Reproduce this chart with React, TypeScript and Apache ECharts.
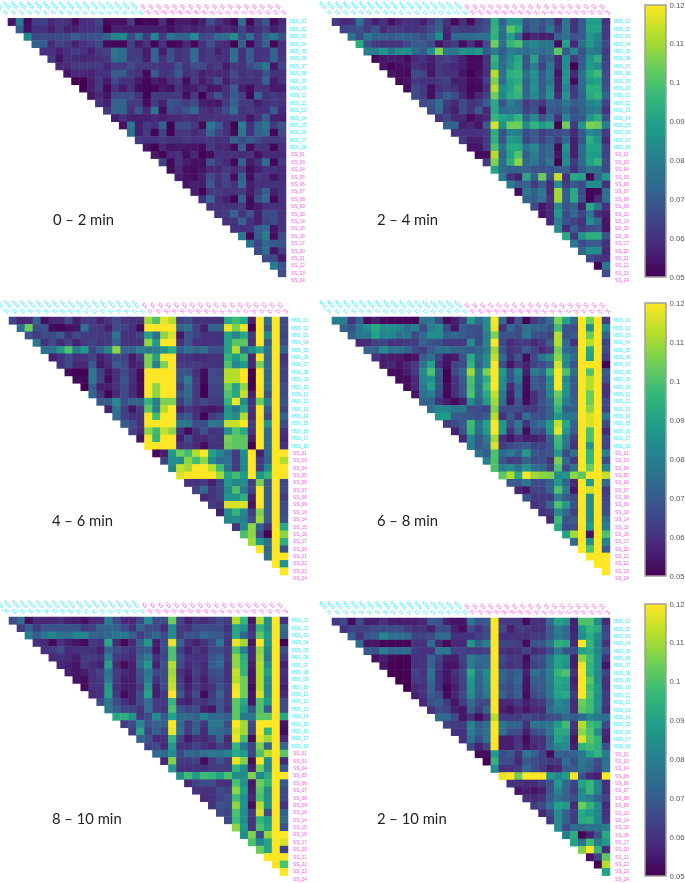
import React, { useEffect, useRef } from "react";
import * as echarts from "echarts";

const nssLabels = ["NSS_01","NSS_02","NSS_03","NSS_04","NSS_05","NSS_06","NSS_07","NSS_08","NSS_09","NSS_10","NSS_11","NSS_12","NSS_13","NSS_14","NSS_15","NSS_16","NSS_17","NSS_18"];
const ssLabels = ["SS_01","SS_03","SS_04","SS_05","SS_06","SS_07","SS_08","SS_09","SS_10","SS_14","SS_15","SS_16","SS_17","SS_20","SS_21","SS_22","SS_23","SS_24"];
const labels = [...nssLabels, ...ssLabels];
const panelTitles = ["0 – 2 min","2 – 4 min","4 – 6 min","6 – 8 min","8 – 10 min","2 – 10 min"];
const colorbarTicks = { min: 0.05, max: 0.12, step: 0.01 };
const viridis = ["#440154","#482878","#3e4989","#31688e","#26828e","#1f9e89","#35b779","#6ece58","#b5de2b","#fde725"];

// Values are thousandths; each row starts just right of the diagonal.
const min0to2 = [
[54,79,52,63,64,58,61,60,52,59,60,64,52,54,53,62,50,52,51,60,51,55,56,52,56,67,60,56,51,75,51,62,68,52,58],
[72,53,60,60,56,61,56,56,60,60,62,50,56,56,56,56,56,56,56,53,56,58,56,58,60,56,58,56,64,56,60,64,56,60],
[82,65,66,65,66,66,71,66,68,68,72,82,82,66,76,62,82,62,77,72,72,84,66,66,74,74,84,66,76,62,72,78,68],
[72,70,58,64,62,56,60,62,66,52,51,51,64,55,60,51,60,51,52,58,51,60,67,60,58,50,72,51,62,72,51,60],
[60,60,56,60,62,60,56,62,64,76,74,62,62,55,72,55,66,60,62,74,60,62,56,60,74,60,70,60,60,72,60],
[62,53,60,58,57,58,60,62,76,74,62,64,56,72,60,68,60,62,74,60,62,60,60,76,60,70,60,62,72,62],
[58,58,62,62,62,62,58,62,62,66,62,62,62,60,60,68,60,66,66,60,62,55,62,60,66,70,78,54,64],
[54,58,58,57,60,60,70,70,62,60,52,70,60,62,70,60,62,56,58,58,58,66,60,62,60,68,60,60],
[50,50,56,62,55,66,60,60,55,51,56,54,60,62,52,62,55,60,66,56,62,60,60,60,72,55,60],
[50,56,62,52,60,55,60,52,51,51,55,53,60,55,56,60,54,55,60,70,56,52,60,60,55,55],
[54,58,54,66,66,66,60,51,62,62,62,62,52,62,50,60,68,60,70,64,51,72,60,62,60],
[60,56,72,72,62,62,52,62,56,68,66,62,66,56,55,54,62,72,62,62,56,60,62,60],
[62,72,72,60,68,58,78,52,66,64,68,74,60,58,60,66,76,60,62,60,60,70,58],
[56,60,56,56,56,58,56,58,58,60,58,60,60,60,60,62,60,54,60,70,56,56],
[53,78,56,62,60,72,50,66,66,62,52,78,70,60,50,80,60,72,78,62,68],
[76,56,62,51,64,50,62,62,58,60,74,64,60,52,78,60,72,74,51,66],
[62,60,60,62,60,60,62,60,60,62,60,60,72,66,70,66,62,62,62],
[54,50,58,54,55,54,54,52,62,58,58,52,70,52,60,60,51,60],
[55,51,58,60,52,58,50,52,60,60,60,58,60,53,58,58,58],
[64,51,60,56,53,53,68,62,58,51,72,55,60,76,51,62],
[52,58,53,52,54,58,58,62,58,62,52,56,60,60,58],
[56,54,52,56,66,60,64,52,72,52,62,60,54,58],
[54,56,56,70,60,64,60,74,56,60,60,60,60],
[56,50,62,62,60,60,62,55,62,72,56,60],
[60,74,60,56,50,72,52,66,74,51,60],
[60,60,60,60,62,52,55,60,60,60],
[60,62,72,60,68,56,66,66,60],
[60,60,72,60,56,64,66,60],
[60,60,60,70,74,54,60],
[78,51,70,80,52,66],
[76,64,74,70,68],
[66,74,54,62],
[66,66,55],
[80,68],
[66],
];

const min2to4 = [
[62,58,60,76,62,56,60,53,58,60,60,56,62,70,60,52,60,52,62,66,94,72,86,86,68,72,68,72,58,78,60,70,88,88,60],
[64,66,68,62,68,58,62,62,60,60,62,66,72,58,64,62,62,64,68,96,76,102,94,66,72,66,78,62,78,60,70,90,90,62],
[76,66,78,72,72,70,72,72,70,66,72,84,56,74,74,74,76,76,96,74,90,74,54,58,56,56,72,76,68,70,86,82,62],
[94,68,62,60,60,60,65,70,70,66,54,60,62,52,60,52,66,104,76,96,100,80,82,78,78,52,90,58,76,88,80,66],
[80,80,86,78,84,84,74,70,84,106,78,78,86,84,88,70,80,70,80,78,74,78,74,78,102,70,82,68,80,78,62],
[52,54,56,55,52,58,60,56,62,64,60,56,52,52,60,96,74,84,92,68,90,68,72,58,84,62,70,86,94,64],
[54,50,53,54,60,58,55,62,60,58,56,52,52,60,92,74,86,94,68,82,64,78,58,84,50,70,88,84,64],
[54,52,52,66,64,54,62,60,60,54,50,54,60,112,76,94,96,76,86,70,80,54,86,58,76,92,98,66],
[52,54,62,60,60,62,64,56,56,52,53,64,106,74,90,94,72,84,70,78,56,86,52,74,88,90,66],
[52,66,62,53,60,62,60,56,51,52,60,112,84,90,98,72,86,70,84,56,82,62,74,94,94,68],
[66,62,52,64,72,66,58,52,58,64,104,82,92,96,74,84,72,86,58,86,62,72,92,96,72],
[66,68,76,62,58,66,60,62,70,92,68,80,74,62,66,62,72,70,78,70,72,82,84,64],
[66,74,60,56,66,60,70,58,92,74,76,76,64,68,54,70,68,74,66,72,78,80,60],
[60,64,58,58,52,56,58,96,90,88,96,72,84,68,76,60,82,68,70,86,94,68],
[72,72,56,58,54,70,116,86,104,104,84,96,88,92,50,104,62,86,106,104,80],
[60,60,60,60,62,94,68,82,80,66,70,62,66,66,68,58,70,84,80,62],
[62,56,56,62,94,68,88,86,64,70,64,70,62,74,56,68,94,86,58],
[54,54,62,100,76,92,92,76,84,70,74,52,86,56,74,90,90,64],
[52,52,112,72,90,100,70,80,70,74,54,82,56,74,88,88,64],
[62,106,74,94,108,74,78,70,78,50,84,62,74,90,96,66],
[90,74,72,72,72,68,68,68,70,72,60,70,78,76,66],
[78,60,56,92,72,104,68,114,60,92,90,50,72,88],
[80,70,72,62,70,58,84,62,70,66,84,84,60],
[52,78,72,78,58,110,70,92,66,50,52,76],
[72,70,76,60,110,70,92,68,50,58,76],
[66,54,58,84,68,72,56,92,78,60],
[54,58,88,66,74,64,78,60,56],
[58,80,68,64,60,84,74,54],
[84,58,70,62,66,68,54],
[92,62,86,94,94,68],
[78,66,70,70,60],
[72,84,84,58],
[66,62,60],
[51,78],
[66],
];

const min4to6 = [
[64,57,58,72,53,58,58,66,56,62,62,56,60,66,60,60,60,110,100,118,112,62,66,60,60,60,60,92,98,92,56,120,74,120,66],
[76,104,66,68,52,51,53,54,76,62,62,56,66,64,60,52,120,120,120,120,72,76,64,56,72,72,118,106,118,50,120,70,120,66],
[68,62,66,66,70,60,66,62,62,62,62,78,60,60,64,90,76,108,116,54,68,64,60,60,60,90,82,92,62,120,84,120,64],
[78,60,66,58,64,56,62,64,60,62,72,60,60,60,108,88,120,120,60,68,60,60,60,60,90,102,102,60,120,70,120,66],
[76,76,88,100,78,88,64,72,82,108,72,72,80,78,80,86,94,70,76,72,76,66,66,90,112,76,84,92,76,120,72],
[56,60,66,60,60,64,56,60,66,64,55,62,106,90,120,120,60,60,58,58,60,60,96,88,98,58,120,74,120,60],
[60,66,58,58,70,54,58,70,66,56,58,106,80,106,120,62,62,62,60,60,60,100,82,88,58,106,74,120,62],
[52,50,50,78,64,54,60,66,60,52,120,120,120,120,68,68,60,52,66,64,112,112,120,50,120,74,120,64],
[52,52,78,64,52,60,68,60,52,120,120,120,120,68,80,62,52,66,66,112,112,120,50,120,74,120,64],
[50,72,56,56,60,66,58,52,120,108,120,120,62,74,62,50,64,64,104,90,108,50,120,74,120,66],
[74,60,50,58,66,58,52,120,108,120,120,68,74,62,50,64,64,100,92,114,56,120,68,120,66],
[70,70,84,66,72,72,96,80,106,106,62,72,62,66,62,62,96,118,84,60,104,80,120,68],
[56,78,64,54,62,102,80,112,120,56,62,58,56,54,56,86,78,92,60,120,70,120,64],
[74,64,60,60,120,98,120,120,66,70,60,50,62,66,88,84,112,58,120,66,120,72],
[70,66,60,120,120,120,120,78,78,66,66,78,76,114,114,120,62,120,86,120,66],
[64,58,108,98,114,108,60,52,60,68,60,62,84,100,92,60,120,74,120,60],
[54,120,96,120,120,56,66,58,58,62,60,106,102,102,56,120,74,120,58],
[120,120,120,120,60,62,58,52,60,60,104,102,102,50,120,74,120,60],
[52,56,88,104,98,112,120,90,82,74,62,84,120,56,74,120,120],
[64,84,84,108,98,108,84,74,76,62,82,120,62,72,120,112],
[82,114,110,120,120,112,98,76,62,82,120,62,82,120,120],
[116,120,120,120,120,110,90,98,88,120,86,96,120,120],
[60,60,62,56,64,88,82,84,62,106,70,120,66],
[64,74,60,64,84,100,78,64,120,70,120,66],
[58,60,64,86,86,94,56,120,70,120,62],
[62,60,116,116,116,54,120,70,120,66],
[56,84,96,82,62,106,70,120,66],
[82,84,80,66,110,70,120,68],
[60,82,108,72,60,120,92],
[100,108,66,50,120,108],
[110,88,76,120,94],
[120,74,120,68],
[76,120,120],
[120,86],
[120],
];

const min6to8 = [
[80,80,60,70,52,56,52,51,51,51,51,76,78,66,52,56,64,88,74,84,120,74,54,68,50,62,66,74,106,90,74,120,104,120,62],
[72,68,78,84,92,84,84,82,76,80,66,80,84,66,54,70,68,66,84,118,60,74,66,76,72,72,68,98,68,66,120,84,120,84],
[72,78,78,90,82,82,76,78,66,74,84,84,72,74,70,68,66,80,106,68,68,66,78,68,66,64,112,68,70,120,104,120,72],
[58,58,64,64,60,60,62,62,72,68,66,62,62,62,84,66,82,120,66,58,62,62,58,62,70,112,74,60,120,112,120,64],
[72,72,84,76,76,72,66,62,70,76,76,72,72,70,72,78,110,68,60,62,70,64,58,62,104,74,72,120,92,120,66],
[60,56,55,55,52,54,70,76,64,54,55,68,92,74,84,114,74,60,68,52,66,76,84,108,84,74,120,90,120,62],
[56,58,54,57,62,76,90,60,53,64,66,96,72,84,120,68,54,62,56,64,66,72,116,82,68,120,120,120,50],
[52,52,56,62,84,100,70,50,66,74,110,80,106,120,88,68,84,56,80,74,96,120,100,76,120,100,120,70],
[52,52,58,82,86,68,50,60,70,100,78,94,120,84,68,80,52,70,66,84,120,84,70,120,112,120,68],
[52,58,78,90,68,52,60,68,98,76,98,120,84,58,72,52,70,68,84,120,86,70,120,112,120,60],
[54,76,80,66,51,60,68,100,76,92,114,78,56,74,51,60,66,82,104,84,70,120,104,120,60],
[72,72,60,55,52,56,84,72,88,110,76,54,68,52,60,68,74,100,80,72,120,104,120,66],
[76,82,82,78,78,66,66,64,106,66,66,66,62,62,66,72,96,70,72,120,108,120,64],
[88,88,70,70,68,66,70,112,60,70,60,76,68,66,72,88,78,78,120,116,120,78],
[62,66,70,98,76,90,120,86,66,78,60,72,76,88,114,92,72,120,116,120,66],
[56,68,96,74,88,120,86,60,74,52,68,66,86,118,86,70,120,100,120,58],
[58,82,68,78,110,60,54,60,56,56,58,70,98,78,62,120,100,120,66],
[80,68,74,116,62,66,68,70,64,64,68,96,78,60,120,86,120,64],
[76,70,100,74,80,72,88,70,66,68,88,66,76,120,96,120,80],
[80,100,68,62,64,72,66,68,60,106,74,62,120,96,120,66],
[100,80,84,76,86,76,74,64,100,66,76,120,104,120,82],
[102,112,92,120,110,108,106,84,86,108,102,120,120,114],
[70,70,78,66,66,72,88,72,58,120,88,120,74],
[58,54,64,64,72,100,80,54,120,116,120,62],
[68,62,62,62,80,70,66,120,84,120,64],
[60,62,72,100,88,68,120,84,120,66],
[60,62,84,74,64,120,84,120,66],
[58,98,68,70,120,84,120,76],
[92,66,66,120,88,120,80],
[90,110,120,54,120,100],
[74,120,84,120,82],
[120,100,120,70],
[120,120,120],
[120,120],
[120],
];

const min8to10 = [
[66,74,52,58,58,58,60,56,56,53,58,58,80,66,58,58,66,84,66,66,104,64,56,60,58,62,66,62,112,96,54,112,84,120,60],
[62,72,62,68,68,68,68,68,62,64,72,72,72,66,60,72,66,66,58,84,62,60,66,66,66,66,60,92,86,58,96,84,120,74],
[80,70,78,82,76,76,82,82,72,72,74,78,78,72,62,68,74,66,84,62,68,68,74,70,70,62,92,74,62,102,88,120,72],
[60,58,52,60,56,54,52,62,60,92,58,52,58,72,88,56,66,118,72,60,56,60,66,78,60,118,110,54,120,86,120,50],
[60,62,66,58,60,60,60,56,72,66,62,60,68,70,54,66,100,64,56,62,58,66,66,62,100,80,58,108,82,120,66],
[58,60,58,56,62,62,60,80,62,60,58,72,80,60,64,100,68,60,60,60,68,72,62,108,94,58,110,78,120,62],
[58,56,54,62,58,56,90,58,52,56,74,88,56,68,112,66,58,62,58,70,74,60,108,96,56,112,84,120,56],
[56,54,56,60,64,78,62,58,56,68,78,66,66,110,60,56,64,58,66,68,60,114,96,54,112,90,120,60],
[54,52,60,62,80,62,56,56,66,80,60,66,112,62,54,62,56,64,66,60,112,104,54,112,84,120,58],
[52,60,60,88,60,56,56,62,86,56,66,114,64,56,62,58,60,68,62,118,104,52,112,82,120,56],
[58,60,90,62,52,56,66,90,56,62,120,70,58,66,52,62,72,62,120,104,54,116,84,120,58],
[66,78,66,60,56,66,76,62,62,96,58,56,62,60,64,68,62,102,92,54,100,88,120,66],
[78,70,64,64,60,76,62,60,100,68,64,66,56,54,68,60,102,88,68,100,70,120,66],
[92,94,86,62,66,84,70,90,74,74,72,82,74,74,70,102,78,78,102,102,120,92],
[62,66,82,68,72,72,120,74,62,70,62,78,78,66,120,110,66,120,120,120,54],
[62,92,64,72,66,118,76,62,72,58,76,74,70,116,110,64,120,96,120,52],
[72,68,58,60,96,64,54,60,58,62,72,58,118,100,52,116,110,120,58],
[64,66,58,88,60,60,64,60,58,64,60,96,78,64,106,72,120,74],
[74,74,84,66,74,72,76,78,76,82,92,88,64,100,112,120,102],
[58,106,62,62,64,52,62,68,62,118,106,52,120,84,120,58],
[86,60,60,60,60,62,62,62,96,84,56,104,82,120,70],
[84,98,88,98,96,90,100,84,84,106,82,92,120,120],
[58,64,66,66,60,60,100,86,54,104,96,120,70],
[60,60,60,66,64,108,90,56,102,84,120,66],
[58,60,64,66,98,84,58,100,84,120,66],
[60,68,66,108,86,52,112,86,120,60],
[66,64,100,84,62,116,66,120,72],
[66,98,84,60,96,88,120,74],
[108,88,60,100,90,120,68],
[84,106,66,108,120,120],
[100,82,90,120,116],
[104,90,120,64],
[120,120,120],
[120,100],
[120],
];

const min2to10 = [
[62,66,52,66,56,56,60,56,55,56,56,58,70,68,56,54,54,78,68,70,120,62,62,62,52,60,60,74,90,86,56,100,100,84,58],
[60,64,64,64,66,66,66,66,62,60,60,56,66,66,56,52,66,60,66,120,66,56,62,62,60,60,70,80,74,56,88,96,92,64],
[70,60,68,70,82,76,76,74,64,64,66,74,74,60,60,60,64,66,120,60,60,60,60,62,62,70,78,74,58,84,94,84,66],
[74,54,54,51,51,51,51,60,60,74,58,52,58,58,86,72,80,120,64,64,62,52,68,68,78,94,92,58,120,96,82,60],
[70,68,80,74,74,74,62,60,60,78,78,64,64,62,62,64,120,60,58,60,64,58,60,66,80,68,66,90,92,82,68],
[53,56,52,51,51,60,60,72,64,56,56,64,80,74,74,120,66,62,62,52,66,68,78,90,88,56,108,98,84,60],
[54,51,50,50,60,60,72,62,54,54,62,80,72,74,120,64,60,62,54,64,66,78,90,86,56,118,96,84,54],
[50,50,50,64,60,76,60,54,60,66,92,74,84,120,72,68,72,56,76,72,80,96,100,60,120,96,84,64],
[50,50,62,62,74,60,54,58,64,88,72,82,120,72,68,74,54,70,70,80,92,90,56,120,102,84,60],
[50,58,60,72,60,51,56,64,86,72,80,120,68,66,70,54,68,70,78,90,88,58,120,98,88,60],
[56,60,70,66,52,58,66,84,70,78,120,72,66,72,52,66,68,78,90,92,62,120,100,86,62],
[58,68,70,62,54,62,74,66,66,120,58,58,62,56,60,62,72,84,80,58,104,98,86,62],
[60,66,64,56,54,72,62,72,120,56,54,58,54,58,58,74,80,80,58,102,98,84,60],
[74,74,66,54,60,52,60,112,62,62,62,66,64,62,66,68,74,70,74,82,78,76],
[64,62,62,82,70,76,120,78,72,72,60,78,76,78,88,98,60,112,98,94,66],
[60,60,80,72,76,120,76,66,66,56,66,68,78,92,92,58,108,100,84,58],
[60,76,66,76,120,56,56,60,52,60,60,72,90,86,54,116,102,96,56],
[66,56,64,120,56,56,62,54,58,60,74,82,84,56,96,98,94,68],
[52,52,88,66,70,60,78,72,64,52,72,70,72,78,90,96,80],
[50,96,66,66,58,70,66,64,62,62,76,66,78,74,66,76],
[84,60,60,62,74,66,62,56,58,70,70,76,72,64,76],
[118,120,104,120,120,120,88,82,88,120,68,58,56,120],
[60,60,58,58,62,68,88,74,64,90,96,82,60],
[54,56,54,56,68,82,72,62,84,96,82,60],
[60,58,60,70,76,72,66,84,80,72,64],
[62,66,76,90,88,58,104,96,84,58],
[58,66,84,72,62,92,88,82,60],
[62,84,72,62,92,94,82,62],
[84,66,74,74,76,76,80],
[80,94,50,56,68,92],
[90,76,98,78,88],
[106,120,96,60],
[54,64,102],
[50,112],
[90],
];

const panels = [min0to2, min2to4, min4to6, min6to8, min8to10, min2to10];

const CELL_COLOR = (_: string, i: number) => (i < nssLabels.length ? "#2fe6f5" : "#fb4fe6");

const gridBoxes = [
  { left: 0, top: 18.3, width: 286, height: 266 },
  { left: 324, top: 18.3, width: 286, height: 266 },
  { left: 1, top: 317, width: 287, height: 265.4 },
  { left: 324, top: 317, width: 286, height: 265.4 },
  { left: 1, top: 617, width: 287, height: 266 },
  { left: 324, top: 618, width: 286, height: 265 },
];
const topLabelShift = 3.5;
const titleSpots = [[53, 219], [377, 219], [52, 520], [377, 520], [52, 818], [377, 818]];
const colorbarBoxes = [
  { left: 645, top: 5, width: 21, height: 272 },
  { left: 645, top: 303, width: 21, height: 273 },
  { left: 645, top: 604, width: 21, height: 272 },
];

function buildOption() {
  const barFill = new echarts.graphic.LinearGradient(
    0, 1, 0, 0,
    viridis.map((color, i) => ({ offset: i / (viridis.length - 1), color }))
  );
  const grid: any[] = gridBoxes.map((b) => ({ ...b, containLabel: false, outerBoundsMode: "none" }));
  const xAxis: any[] = gridBoxes.map((_, i) => ({
    type: "category",
    gridIndex: i,
    position: "top",
    data: labels,
    axisTick: { show: false },
    splitLine: { show: false },
    axisLine: { show: false },
    axisLabel: { show: false },
  }));
  const yAxis: any[] = gridBoxes.map((_, i) => ({
    type: "category",
    gridIndex: i,
    position: "right",
    inverse: true,
    data: labels,
    axisTick: { show: false },
    splitLine: { show: false },
    axisLine: { show: false },
    axisLabel: { interval: 0, fontSize: 4.6, margin: 12, align: "center", fontFamily: "Liberation Sans", color: CELL_COLOR },
  }));
  const series: any[] = panels.map((rows, i) => ({
    type: "heatmap",
    name: panelTitles[i],
    xAxisIndex: i,
    yAxisIndex: i,
    silent: true,
    progressive: 0,
    emphasis: { disabled: true },
    data: rows.flatMap((row, r) => row.map((v, j) => [r + 1 + j, r, v / 1000])),
  }));
  // Top labels sit on their own axis, offset a little from the cell columns as in the figure.
  gridBoxes.forEach((b) => {
    const g = grid.length;
    grid.push({ ...b, left: b.left + topLabelShift, outerBoundsMode: "none" });
    xAxis.push({
      type: "category",
      gridIndex: g,
      position: "top",
      data: labels,
      axisTick: { show: false },
      splitLine: { show: false },
      axisLine: { show: false },
      axisLabel: { interval: 0, rotate: 45, fontSize: 4.6, margin: 4, fontFamily: "Liberation Sans", color: CELL_COLOR },
    });
    yAxis.push({ type: "category", gridIndex: g, show: false, data: labels });
  });
  colorbarBoxes.forEach((b) => {
    const g = grid.length;
    grid.push({ ...b, show: true, outerBoundsMode: "none", backgroundColor: barFill, borderColor: "#a0a0a0", borderWidth: 1.5 });
    xAxis.push({ type: "value", gridIndex: g, show: false, min: 0, max: 1 });
    yAxis.push({
      type: "value",
      gridIndex: g,
      position: "right",
      min: colorbarTicks.min,
      max: colorbarTicks.max,
      interval: colorbarTicks.step,
      axisLine: { show: false },
      axisTick: { show: false },
      splitLine: { show: false },
      axisLabel: { fontSize: 7.8, margin: 3.5, color: "#555", fontFamily: "Liberation Sans", showMinLabel: true, showMaxLabel: true },
    });
  });
  return {
    animation: false,
    backgroundColor: "#ffffff",
    grid,
    xAxis,
    yAxis,
    series,
    visualMap: {
      show: false,
      type: "continuous",
      min: colorbarTicks.min,
      max: colorbarTicks.max,
      dimension: 2,
      seriesIndex: panels.map((_, i) => i),
      inRange: { color: viridis },
    },
    graphic: panelTitles.map((text, i) => ({
      type: "text",
      x: titleSpots[i][0],
      y: titleSpots[i][1],
      silent: true,
      style: { text, fontFamily: "Lato", fontSize: 14.8, fill: "#222", verticalAlign: "middle", align: "left" },
    })),
  };
}

export default function App() {
  const ref = useRef<HTMLDivElement>(null);
  useEffect(() => {
    if (!ref.current) return;
    const chart = echarts.init(ref.current, undefined, { renderer: "svg", width: 685, height: 883 });
    chart.setOption(buildOption() as any);
    return () => chart.dispose();
  }, []);
  return (
    <div
      ref={ref}
      style={{ position: "fixed", left: 0, top: 0, width: 685, height: 883, filter: "blur(0.35px)" }}
    />
  );
}
